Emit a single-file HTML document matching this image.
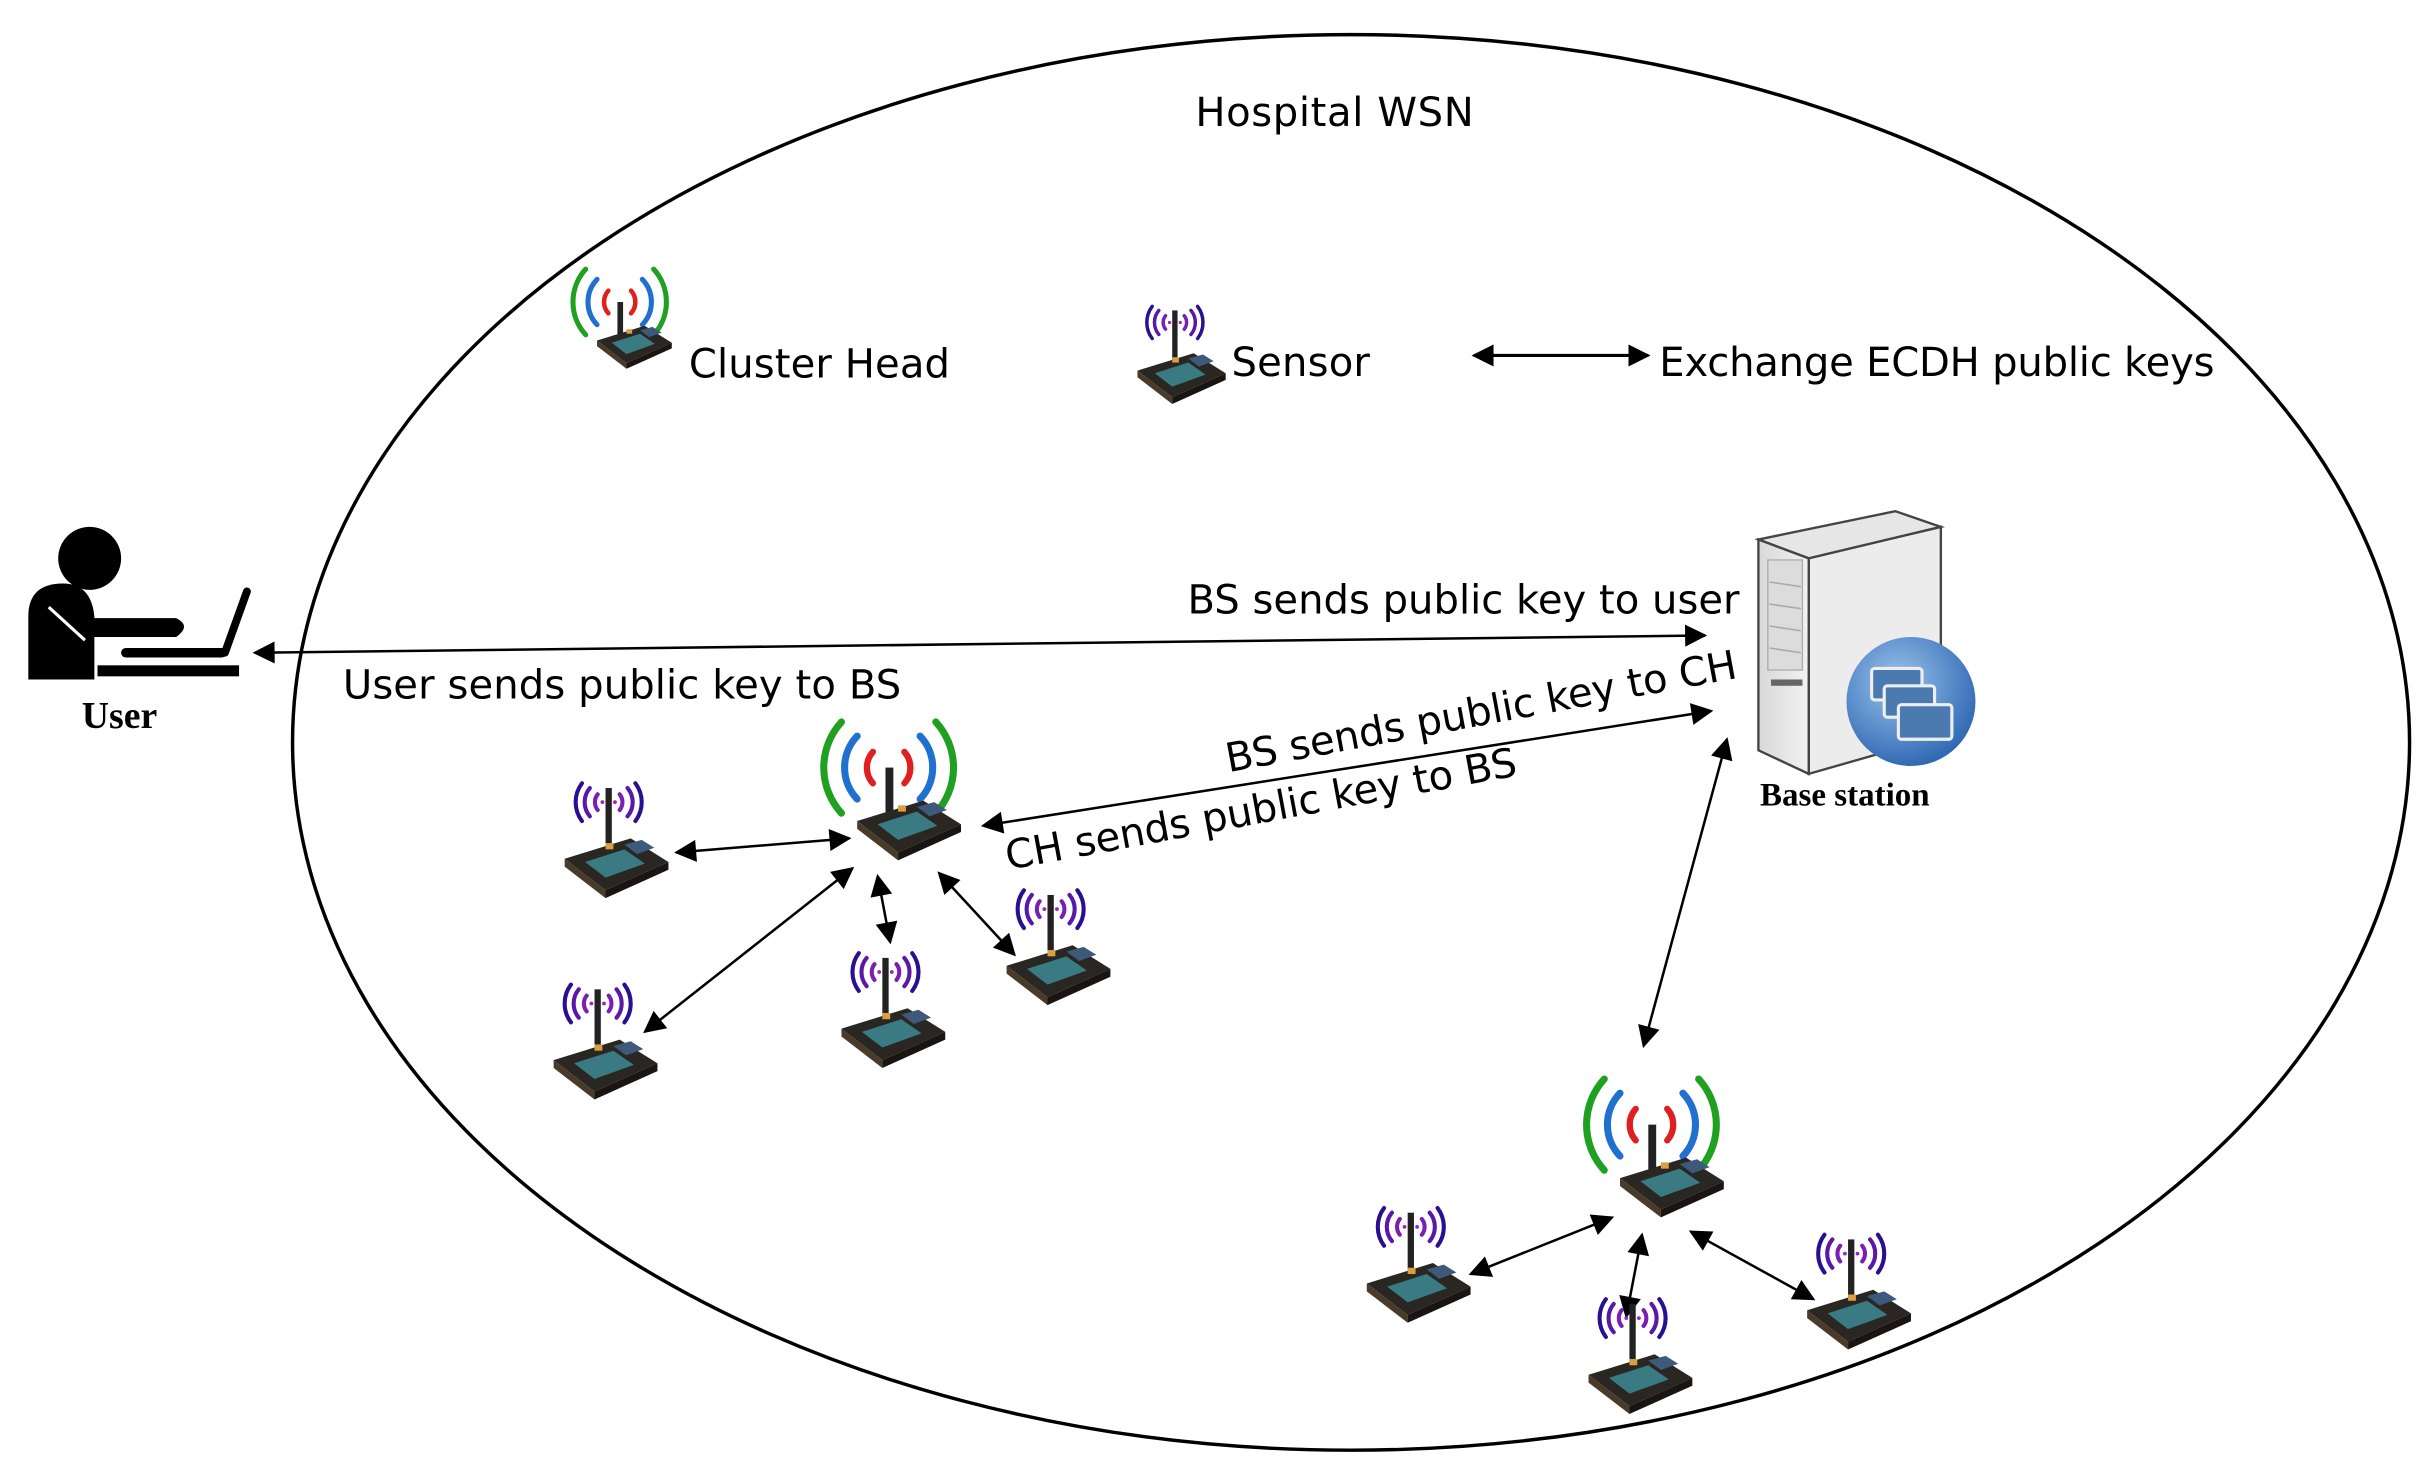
<!DOCTYPE html>
<html><head><meta charset="utf-8"><style>html,body{margin:0;padding:0;background:#fff}svg{display:block}</style></head>
<body>
<svg width="2430" height="1462" viewBox="0 0 1545 929.5" preserveAspectRatio="none" xmlns="http://www.w3.org/2000/svg">
<defs>
<marker id="ahb" viewBox="0 0 10 10" refX="9" refY="5" markerWidth="16" markerHeight="14" markerUnits="userSpaceOnUse" orient="auto-start-reverse"><path d="M0,0 L10,5 L0,10 z" fill="#000"/></marker>
<g id="board">
<polygon points="-28,38 14,25 38,40 -2,58" fill="#2a2622"/>
<polygon points="-28,38 -2,58 -2,63 -28,43" fill="#4a3a2a"/>
<polygon points="-2,58 38,40 38,45 -2,63" fill="#1a1512"/>
<polygon points="-15,40 10,32 23,41 -2,50" fill="#3a7a82"/>
<polygon points="10,29 21,26 29,31 18,35" fill="#3d5a7a"/>
<rect x="-2" y="28" width="5" height="4" fill="#d8a040"/>
</g>
<g id="sensor">
<g fill="none" stroke-width="2.6" stroke-linecap="round">
<path d="M-7,-5 A8,8 0 0 0 -7,5" stroke="#7a20b0"/><path d="M7,-5 A8,8 0 0 1 7,5" stroke="#7a20b0"/>
<path d="M-12,-9 A14,14 0 0 0 -12,9" stroke="#5a18a8"/><path d="M12,-9 A14,14 0 0 1 12,9" stroke="#5a18a8"/>
<path d="M-17,-12 A20,20 0 0 0 -17,12" stroke="#2a1090"/><path d="M17,-12 A20,20 0 0 1 17,12" stroke="#2a1090"/>
</g>
<circle cx="-4" cy="0" r="1.2" fill="#a020c0"/><circle cx="4" cy="0" r="1.2" fill="#a020c0"/>
<rect x="-2" y="-9" width="4" height="38" fill="#222"/>
<use href="#board" transform="translate(0,-2)"/>
</g>
<g id="ch">
<g fill="none" stroke-linecap="round">
<path d="M-10,-10 A15,15 0 0 0 -10,10" stroke="#e02020" stroke-width="4"/><path d="M10,-10 A15,15 0 0 1 10,10" stroke="#e02020" stroke-width="4"/>
<path d="M-20,-20 A29,29 0 0 0 -20,20" stroke="#2070d0" stroke-width="4.5"/><path d="M20,-20 A29,29 0 0 1 20,20" stroke="#2070d0" stroke-width="4.5"/>
<path d="M-30,-29 A43,43 0 0 0 -30,29" stroke="#20a020" stroke-width="4.5"/><path d="M30,-29 A43,43 0 0 1 30,29" stroke="#20a020" stroke-width="4.5"/>
</g>
<rect x="-2" y="0" width="5" height="33" fill="#222"/>
<use href="#board" transform="translate(8,-4)"/>
</g>
<radialGradient id="blue" cx="0.4" cy="0.35" r="0.7"><stop offset="0" stop-color="#9cc4ec"/><stop offset="1" stop-color="#2a64b0"/></radialGradient>
<linearGradient id="gfront" x1="0" x2="1"><stop offset="0" stop-color="#d8d8d8"/><stop offset="1" stop-color="#f2f2f2"/></linearGradient>
</defs>

<ellipse cx="859" cy="472" rx="673" ry="450" fill="none" stroke="#000" stroke-width="2.2"/>

<g font-family="'DejaVu Sans', 'Liberation Sans', sans-serif" font-size="25.5" fill="#000">
<text x="760" y="80" textLength="177">Hospital WSN</text>
<text x="438" y="240" textLength="166">Cluster Head</text>
<text x="783" y="239" textLength="88">Sensor</text>
<text x="1055" y="239" textLength="353">Exchange ECDH public keys</text>
<text x="755" y="390" textLength="351">BS sends public key to user</text>
<text x="218" y="444" textLength="355">User sends public key to BS</text>
<text x="0" y="0" transform="translate(781,491) rotate(-10.5)" textLength="330">BS sends public key to CH</text>
<text x="0" y="0" transform="translate(641,553) rotate(-10.5)" textLength="330">CH sends public key to BS</text>
</g>
<g font-family="'Liberation Serif', serif" font-weight="bold" fill="#000">
<text x="52" y="463" font-size="24">User</text>
<text x="1119" y="512" font-size="21">Base station</text>
</g>

<use href="#ch" transform="translate(394,192) scale(0.72)"/>
<use href="#sensor" transform="translate(747,205) scale(0.85)"/>
<line x1="937" y1="226" x2="1048" y2="226" stroke="#000" stroke-width="2" marker-start="url(#ahb)" marker-end="url(#ahb)"/>

<g fill="#000">
<circle cx="57" cy="355" r="20"/>
<path d="M18,432 L18,392 Q18,371 40,371 Q58,371 60,392 L60,393 L112,393 Q122,398 112,405 L60,405 L60,432 Z"/>
<line x1="31" y1="386" x2="54" y2="407" stroke="#fff" stroke-width="2"/>
<rect x="62" y="423" width="90" height="7"/>
<rect x="77" y="412" width="67" height="6" rx="3"/>
<line x1="143" y1="415" x2="157" y2="376" stroke="#000" stroke-width="5" stroke-linecap="round"/>
</g>

<g>
<polygon points="1118,343 1205,325 1234,335 1150,355" fill="#e6e6e6" stroke="#444" stroke-width="1.5"/>
<polygon points="1150,355 1234,335 1234,468 1150,492" fill="#ececec" stroke="#444" stroke-width="1.5"/>
<polygon points="1118,343 1150,355 1150,492 1118,477" fill="url(#gfront)" stroke="#444" stroke-width="1.5"/>
<rect x="1124" y="356" width="22" height="70" fill="#dcdcdc" stroke="#aaa" stroke-width="0.8"/>
<g stroke="#aaa" stroke-width="1"><line x1="1125" y1="370" x2="1145" y2="373"/><line x1="1125" y1="384" x2="1145" y2="387"/><line x1="1125" y1="398" x2="1145" y2="401"/><line x1="1125" y1="412" x2="1145" y2="415"/></g>
<rect x="1126" y="432" width="20" height="4" fill="#666"/>
<circle cx="1215" cy="446" r="41" fill="url(#blue)"/>
<g stroke="#eee" stroke-width="2" fill="#4a7ab0">
<rect x="1190" y="425" width="32" height="20" rx="2"/>
<rect x="1198" y="436" width="32" height="20" rx="2"/>
<rect x="1207" y="448" width="34" height="22" rx="2"/>
</g>
</g>

<g stroke="#000" stroke-width="1.6" fill="none">
<line x1="162" y1="415" x2="1084" y2="404" marker-start="url(#ahb)" marker-end="url(#ahb)"/>
<line x1="625" y1="525" x2="1088" y2="452" marker-start="url(#ahb)" marker-end="url(#ahb)"/>
<line x1="1098" y1="470" x2="1045" y2="665" marker-start="url(#ahb)" marker-end="url(#ahb)"/>
<line x1="430" y1="542" x2="540" y2="533" marker-start="url(#ahb)" marker-end="url(#ahb)"/>
<line x1="410" y1="656" x2="542" y2="552" marker-start="url(#ahb)" marker-end="url(#ahb)"/>
<line x1="558" y1="557" x2="566" y2="599" marker-start="url(#ahb)" marker-end="url(#ahb)"/>
<line x1="597" y1="555" x2="645" y2="607" marker-start="url(#ahb)" marker-end="url(#ahb)"/>
<line x1="935" y1="810" x2="1025" y2="774" marker-start="url(#ahb)" marker-end="url(#ahb)"/>
<line x1="1044" y1="785" x2="1034" y2="837" marker-start="url(#ahb)" marker-end="url(#ahb)"/>
<line x1="1075" y1="783" x2="1153" y2="826" marker-start="url(#ahb)" marker-end="url(#ahb)"/>
</g>

<use href="#ch" transform="translate(565,488)"/>
<use href="#sensor" transform="translate(387,510)"/>
<use href="#sensor" transform="translate(380,638)"/>
<use href="#sensor" transform="translate(563,618)"/>
<use href="#sensor" transform="translate(668,578)"/>
<use href="#ch" transform="translate(1050,715)"/>
<use href="#sensor" transform="translate(897,780)"/>
<use href="#sensor" transform="translate(1038,838)"/>
<use href="#sensor" transform="translate(1177,797)"/>
</svg>
</body></html>
